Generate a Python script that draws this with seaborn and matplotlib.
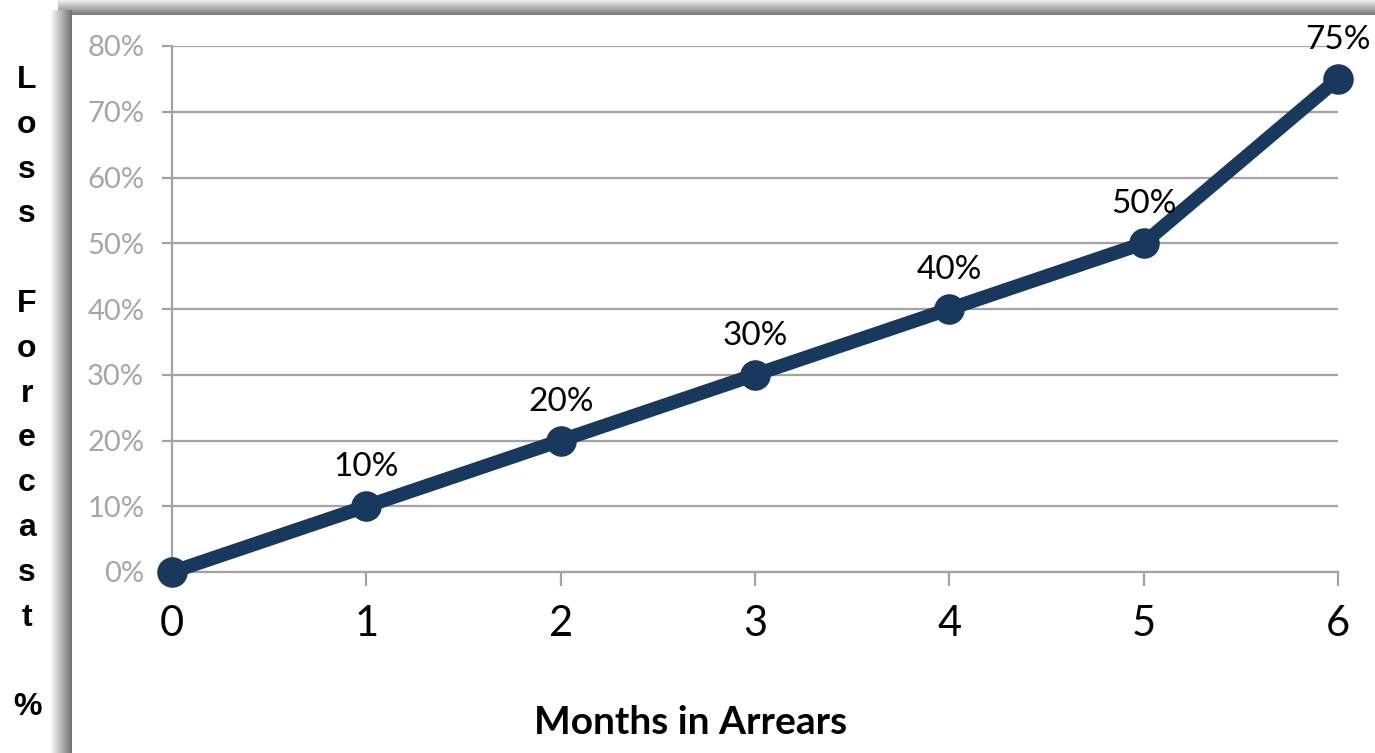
import numpy as np
import pandas as pd
import seaborn as sns
import matplotlib.pyplot as plt
from matplotlib.ticker import PercentFormatter

# data
months = [0, 1, 2, 3, 4, 5, 6]
loss_pct = [0.00, 0.10, 0.20, 0.30, 0.40, 0.50, 0.75]
point_labels = ["", "10%", "20%", "30%", "40%", "50%", "75%"]
y_ticks = [0.0, 0.1, 0.2, 0.3, 0.4, 0.5, 0.6, 0.7, 0.8]

NAVY = "#19385e"
GRID = "#a3a3a3"

sns.set_theme(style="white")
plt.rcParams["font.family"] = ["Lato", "DejaVu Sans"]
plt.rcParams["text.color"] = "black"

df = pd.DataFrame({"Months": months, "Loss": loss_pct})

W, H = 1375, 753
fig = plt.figure(figsize=(W / 100, H / 100), dpi=100)
fig.patch.set_facecolor("white")

# --- shadowed frame behind the chart ---
bg = fig.add_axes([0, 0, 1, 1], zorder=0)
bg.set_xlim(0, W)
bg.set_ylim(H, 0)
bg.axis("off")
top = np.linspace(0.93, 0.48, 15).reshape(-1, 1)
bg.imshow(np.repeat(top, 10, axis=1), cmap="gray", vmin=0, vmax=1,
          extent=(58, W, 15, 0), aspect="auto", interpolation="bilinear")
left = np.linspace(0.97, 0.45, 21).reshape(1, -1)
bg.imshow(np.repeat(left, 10, axis=0), cmap="gray", vmin=0, vmax=1,
          extent=(51, 72, H, 10), aspect="auto", interpolation="bilinear")

# --- main plot ---
ax = fig.add_axes([172 / W, 1 - 572 / H, (1338 - 172) / W, (572 - 46) / H], zorder=2)
ax.patch.set_alpha(0)

sns.lineplot(data=df, x="Months", y="Loss", ax=ax, color=NAVY, linewidth=10,
             marker="o", markersize=22, markeredgewidth=0, clip_on=False, zorder=5)

ax.set_xlim(0, 6)
ax.set_ylim(0, 0.8)
ax.set_xticks(months)
ax.set_yticks(y_ticks)
ax.yaxis.set_major_formatter(PercentFormatter(1.0, decimals=0))
ax.grid(axis="y", color=GRID, linewidth=1.6)
ax.set_axisbelow(True)

for s in ["top", "right"]:
    ax.spines[s].set_visible(False)
for s in ["left", "bottom"]:
    ax.spines[s].set_color(GRID)
    ax.spines[s].set_linewidth(1.6)

ax.tick_params(axis="y", colors=GRID, labelcolor="#a6a6a6", labelsize=21,
               direction="out", length=7, width=1.6, pad=13, left=True)
ax.tick_params(axis="x", colors=GRID, labelcolor="black", labelsize=30,
               direction="out", length=10, width=1.6, pad=14, bottom=True)

ax.set_xlabel("Months in Arrears", fontsize=28, fontweight="bold", color="black")
ax.xaxis.set_label_coords((691 - 172) / 1166, (572 - 722) / 526)
ax.xaxis.label.set_va("center")
ax.set_ylabel("")

for x, y, lab in zip(months, loss_pct, point_labels):
    if lab:
        ax.annotate(lab, (x, y), xytext=(0, 28), textcoords="offset points",
                    ha="center", va="center", fontsize=24, color="black", zorder=6)

# vertical stacked y-axis label
ylab = "Loss Forecast %"
for i, ch in enumerate(ylab):
    if ch != " ":
        fig.text(27 / W, 1 - (80 + i * 44.8) / H, ch, ha="center", va="center",
                 fontsize=23, fontweight="bold", family="Liberation Sans")

fig.savefig("out.png", dpi=100)
